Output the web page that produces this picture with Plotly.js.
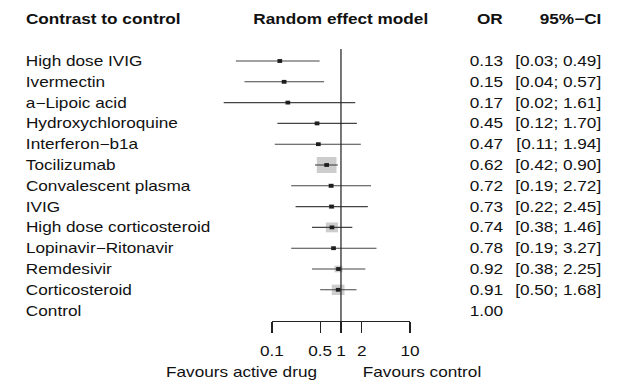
<!DOCTYPE html>
<html>
<head>
<meta charset="utf-8">
<script src="https://cdn.plot.ly/plotly-3.0.1.min.js"></script>
<style>
  html, body { margin: 0; padding: 0; background: #ffffff; overflow: hidden; }
  #wrap { width: 510px; height: 386px; transform: scaleX(1.2294); transform-origin: 0 0; }
</style>
</head>
<body>
<div id="wrap"></div>
<script>
// ---- data ----
const contrasts = ['High dose IVIG', 'Ivermectin', 'a\u2212Lipoic acid', 'Hydroxychloroquine',
  'Interferon\u2212b1a', 'Tocilizumab', 'Convalescent plasma', 'IVIG', 'High dose corticosteroid',
  'Lopinavir\u2212Ritonavir', 'Remdesivir', 'Corticosteroid', 'Control'];
const orVal  = [0.13, 0.15, 0.17, 0.45, 0.47, 0.62, 0.72, 0.73, 0.74, 0.78, 0.92, 0.91, 1.00];
const ciLow  = [0.03, 0.04, 0.02, 0.12, 0.11, 0.42, 0.19, 0.22, 0.38, 0.19, 0.38, 0.50, null];
const ciHigh = [0.49, 0.57, 1.61, 1.70, 1.94, 0.90, 2.72, 2.45, 1.46, 3.27, 2.25, 1.68, null];
const weight = [0.05, 0.05, 0.03, 0.05, 0.05, 1.00, 0.08, 0.08, 0.38, 0.05, 0.17, 0.42, null];
const tickVals = [0.1, 0.5, 1, 2, 10];
const tickText = ['0.1', '0.5', '1', '2', '10'];
const headers = ['Contrast to control', 'Random effect model', 'OR', '95%\u2212CI'];
const sideLabels = ['Favours active drug', 'Favours control'];

// ---- layout geometry (design px, before horizontal stretch) ----
const W = 510, H = 386;
const xAt01 = 221.2, xAt10 = 333.5;           // pixel of 0.1 and 10
const pxDec = (xAt10 - xAt01) / 2;
const xRange = [-1 - xAt01 / pxDec, -1 + (W - xAt01) / pxDec];
const row0 = 61, rowH = 20.8;
const yRange = [(H - row0) / rowH, -row0 / rowH];
const n = contrasts.length;
const rows = contrasts.map((_, i) => i);

const FONT = 'Liberation Sans, Arial, sans-serif';
const TXT = '#111111';

// ---- traces ----
const ciX = [], ciY = [];
for (let i = 0; i < n; i++) {
  if (ciLow[i] == null) continue;
  ciX.push(ciLow[i], ciHigh[i], null);
  ciY.push(i, i, null);
}
const sqIdx = rows.filter(i => weight[i] != null);

const traces = [
  { // weight squares
    type: 'scatter', mode: 'markers',
    x: sqIdx.map(i => orVal[i]), y: sqIdx.map(i => i),
    marker: { symbol: 'square', color: '#b8b8b8', size: sqIdx.map(i => 16 * Math.sqrt(weight[i])), line: { width: 0 } },
    hoverinfo: 'skip', showlegend: false
  },
  { // confidence intervals
    type: 'scatter', mode: 'lines', x: ciX, y: ciY,
    line: { color: '#444444', width: 1.1 }, hoverinfo: 'skip', showlegend: false
  },
  { // point estimates
    type: 'scatter', mode: 'markers',
    x: sqIdx.map(i => orVal[i]), y: sqIdx.map(i => i),
    marker: { symbol: 'square', color: '#1e1e1e', size: 3.8 },
    hoverinfo: 'skip', showlegend: false
  },
  { // line of no effect
    type: 'scatter', mode: 'lines', x: [1, 1], y: [-0.58, n - 0.5],
    line: { color: '#222222', width: 1 }, hoverinfo: 'skip', showlegend: false
  },
  { // anchor for the drawn axis subplot
    type: 'scatter', mode: 'markers', x: [1], y: [0], xaxis: 'x2', yaxis: 'y2',
    marker: { opacity: 0 }, hoverinfo: 'skip', showlegend: false
  }
];

// ---- text ----
const ann = [];
const font = { family: FONT, size: 14, color: TXT };
const xLabel = 19 / W, xOR = 411 / W, xCI = 491 / W;
const yHead = -2.02;
ann.push({ xref: 'paper', yref: 'y', x: xLabel, y: yHead, text: '<b>' + headers[0] + '</b>', xanchor: 'left', yanchor: 'middle', showarrow: false, font: font });
ann.push({ xref: 'x', yref: 'y', x: 0, y: yHead, text: '<b>' + headers[1] + '</b>', xanchor: 'center', yanchor: 'middle', showarrow: false, font: font });
ann.push({ xref: 'paper', yref: 'y', x: xOR, y: yHead, text: '<b>' + headers[2] + '</b>', xanchor: 'right', yanchor: 'middle', showarrow: false, font: font });
ann.push({ xref: 'paper', yref: 'y', x: xCI, y: yHead, text: '<b>' + headers[3] + '</b>', xanchor: 'right', yanchor: 'middle', showarrow: false, font: font });
for (let i = 0; i < n; i++) {
  ann.push({ xref: 'paper', yref: 'y', x: xLabel, y: i, text: contrasts[i], xanchor: 'left', yanchor: 'middle', showarrow: false, font: font });
  ann.push({ xref: 'paper', yref: 'y', x: xOR, y: i, text: orVal[i].toFixed(2), xanchor: 'right', yanchor: 'middle', showarrow: false, font: font });
  if (ciLow[i] != null) {
    ann.push({ xref: 'paper', yref: 'y', x: xCI, y: i, text: '[' + ciLow[i].toFixed(2) + '; ' + ciHigh[i].toFixed(2) + ']', xanchor: 'right', yanchor: 'middle', showarrow: false, font: font });
  }
}
ann.push({ xref: 'x', yref: 'y', x: Math.log10(0.49), y: 14.95, text: sideLabels[0], xanchor: 'right', yanchor: 'middle', showarrow: false, font: font });
ann.push({ xref: 'x', yref: 'y', x: Math.log10(1.93), y: 14.95, text: sideLabels[1], xanchor: 'left', yanchor: 'middle', showarrow: false, font: font });

const axLineY = (H - (row0 + (n - 0.5) * rowH)) / H;

const layout = {
  width: W, height: H,
  margin: { l: 0, r: 0, t: 0, b: 0 },
  paper_bgcolor: '#ffffff', plot_bgcolor: 'rgba(0,0,0,0)',
  showlegend: false,
  xaxis: { type: 'log', range: xRange, domain: [0, 1], visible: false, fixedrange: true },
  yaxis: { range: yRange, domain: [0, 1], visible: false, fixedrange: true },
  xaxis2: {
    type: 'log', range: [-1, 1], domain: [xAt01 / W, xAt10 / W], anchor: 'y2',
    showline: true, linecolor: '#222222', linewidth: 1, mirror: false,
    ticks: 'outside', ticklen: 11, tickwidth: 1, tickcolor: '#222222',
    tickmode: 'array', tickvals: tickVals, ticktext: tickText,
    tickfont: { family: FONT, size: 14, color: TXT }, ticklabelstandoff: 6,
    showgrid: false, zeroline: false, fixedrange: true
  },
  yaxis2: { domain: [axLineY, axLineY + 0.01], anchor: 'x2', visible: false, fixedrange: true },
  annotations: ann
};

Plotly.newPlot('wrap', traces, layout, { staticPlot: true, displayModeBar: false, responsive: false });
</script>
</body>
</html>
